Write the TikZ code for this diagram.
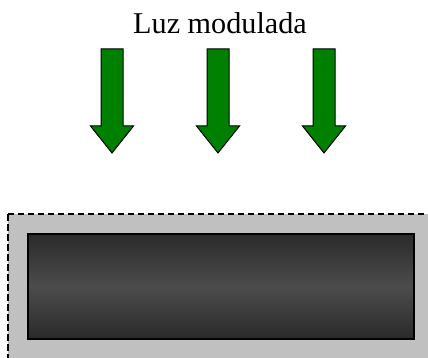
\documentclass[tikz,border=0pt]{standalone}
\usepackage{fontspec}
\setmainfont{Liberation Serif}
\usepackage{xcolor}
\usepackage{tikz}
\definecolor{arrowgreen}{RGB}{0,128,0}
\definecolor{panelgray}{RGB}{192,192,192}
\definecolor{celldark}{RGB}{42,42,42}
\definecolor{cellmid}{RGB}{76,76,76}

\begin{document}
\begin{tikzpicture}[x=1pt, y=-1pt]
		\useasboundingbox (0,0) rectangle (428,358);
		\clip (0,0) rectangle (428,358);

		% texto
		\node[anchor=base, inner sep=0pt] (titulo) at (220,34) {\fontsize{30.2}{36}\selectfont Luz modulada};

		% flechas de luz
		\foreach \x in {112,218,324} {
			\draw[fill=arrowgreen, line width=1pt, line join=miter]
				(\x-11,49) -- (\x+11,49) -- (\x+11,126) -- (\x+21.5,126)
				-- (\x,153) -- (\x-21.5,126) -- (\x-11,126) -- cycle;
		}

		% panel
		\draw[fill=panelgray, line width=1.3pt, dash pattern=on 6.5pt off 3.5pt] (8,214) rectangle (445,375);
		\shade[top color=celldark, bottom color=celldark, middle color=cellmid] (28,234) rectangle (414,339);
		\draw[line width=1.3pt] (28,234) rectangle (414,339);
\end{tikzpicture}
\end{document}
